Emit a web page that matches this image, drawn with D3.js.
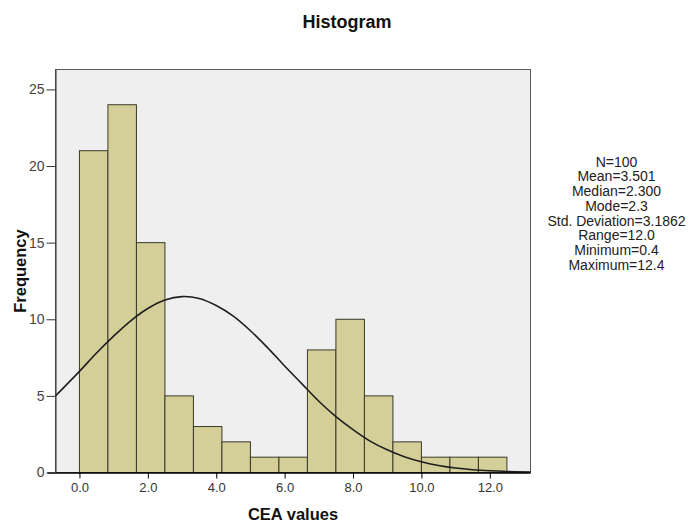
<!DOCTYPE html>
<html>
<head>
<meta charset="utf-8">
<script src="https://cdn.jsdelivr.net/npm/d3@7/dist/d3.min.js"></script>
<style>
  html, body { margin: 0; padding: 0; background: #ffffff; }
  svg { display: block; font-family: "Liberation Sans", Arial, sans-serif; }
</style>
</head>
<body>
<svg id="chart" width="694" height="524"></svg>
<script>
// ---- data ----
const binStarts = [0, 0.8333, 1.6667, 2.5, 3.3333, 4.1667, 5, 5.8333, 6.6667, 7.5, 8.3333, 9.1667, 10, 10.8333, 11.6667];
const binWidth = 0.8333;
const counts = [21, 24, 15, 5, 3, 2, 1, 1, 8, 10, 5, 2, 1, 1, 1];
const curveX = [-0.7, 0, 0.5, 1, 1.5, 2, 2.5, 3, 3.5, 4, 4.5, 5, 5.5, 6, 6.5, 7, 7.5, 8, 8.5, 9, 9.5, 10, 10.5, 11, 11.5, 12, 12.5, 13.2];
const curveY = [5.0, 6.6, 7.8, 8.9, 9.9, 10.7, 11.25, 11.48, 11.36, 10.9, 10.2, 9.25, 8.15, 6.95, 5.8, 4.65, 3.65, 2.8, 2.05, 1.48, 1.03, 0.7, 0.46, 0.29, 0.18, 0.11, 0.065, 0.03];
const xTicks = [0, 2, 4, 6, 8, 10, 12];
const yTicks = [0, 5, 10, 15, 20, 25];
const statsLines = ["N=100", "Mean=3.501", "Median=2.300", "Mode=2.3", "Std. Deviation=3.1862", "Range=12.0", "Minimum=0.4", "Maximum=12.4"];
const titleText = "Histogram";
const xTitle = "CEA values";
const yTitle = "Frequency";

// ---- layout ----
const svg = d3.select("#chart");
const plot = { left: 55.5, right: 530.5, top: 69.5, bottom: 472.5 };

const x = d3.scaleLinear().domain([-0.70, 13.19]).range([plot.left, plot.right]);
const y = d3.scaleLinear().domain([0, 26.3]).range([plot.bottom, plot.top]);

// plot background
svg.append("rect")
  .attr("x", plot.left).attr("y", plot.top)
  .attr("width", plot.right - plot.left).attr("height", plot.bottom - plot.top)
  .attr("fill", "#efefef").attr("stroke", "#5a5a5a").attr("stroke-width", 1);

// bars
svg.append("g").selectAll("rect")
  .data(counts)
  .join("rect")
  .attr("x", (d, i) => x(binStarts[i]))
  .attr("width", (d, i) => x(binStarts[i] + binWidth) - x(binStarts[i]))
  .attr("y", d => y(d))
  .attr("height", d => y(0) - y(d))
  .attr("fill", "#d4cf98")
  .attr("stroke", "#3a3a2a")
  .attr("stroke-width", 1);

// normal curve
const line = d3.line()
  .x((d, i) => x(curveX[i]))
  .y(d => y(d))
  .curve(d3.curveCatmullRom.alpha(0.5));
svg.append("path")
  .datum(curveY)
  .attr("d", line)
  .attr("fill", "none")
  .attr("stroke", "#1e1e1e")
  .attr("stroke-width", 1.6);

// axes
const xAxis = d3.axisBottom(x)
  .tickValues(xTicks)
  .tickFormat(d3.format(".1f"))
  .tickSizeInner(6).tickSizeOuter(0).tickPadding(4);
const gx = svg.append("g")
  .attr("transform", `translate(0,${plot.bottom})`)
  .call(xAxis);
gx.select(".domain").attr("stroke", "#000").attr("stroke-width", 1.5)
  .attr("d", `M${plot.left - 8},0.5H${plot.right}`);
gx.selectAll(".tick line").attr("stroke", "#000");
gx.selectAll(".tick text").attr("fill", "#333").attr("font-size", 13)
  .attr("font-family", "Liberation Sans, Arial, sans-serif");

const yAxis = d3.axisLeft(y)
  .tickValues(yTicks)
  .tickFormat(d3.format("d"))
  .tickSizeInner(9).tickSizeOuter(0).tickPadding(2);
const gy = svg.append("g")
  .attr("transform", `translate(${plot.left},0)`)
  .call(yAxis);
gy.select(".domain").attr("stroke", "#333").attr("stroke-width", 1);
gy.selectAll(".tick line").attr("stroke", "#333");
gy.selectAll(".tick text").attr("fill", "#444").attr("font-size", 14)
  .attr("font-family", "Liberation Sans, Arial, sans-serif");

// titles
svg.append("text")
  .attr("x", 347).attr("y", 28)
  .attr("text-anchor", "middle")
  .attr("font-size", 18).attr("font-weight", "bold").attr("fill", "#111")
  .text(titleText);

svg.append("text")
  .attr("x", (plot.left + plot.right) / 2).attr("y", 520)
  .attr("text-anchor", "middle")
  .attr("font-size", 16.5).attr("font-weight", "bold").attr("fill", "#111")
  .text(xTitle);

svg.append("text")
  .attr("transform", `translate(26,${(plot.top + plot.bottom) / 2}) rotate(-90)`)
  .attr("text-anchor", "middle")
  .attr("font-size", 16.5).attr("font-weight", "bold").attr("fill", "#111")
  .text(yTitle);

// stats block
svg.append("g").selectAll("text")
  .data(statsLines)
  .join("text")
  .attr("x", 616.5)
  .attr("y", (d, i) => 166.5 + i * 14.76)
  .attr("text-anchor", "middle")
  .attr("font-size", 14)
  .attr("fill", "#222")
  .text(d => d);
</script>
</body>
</html>
